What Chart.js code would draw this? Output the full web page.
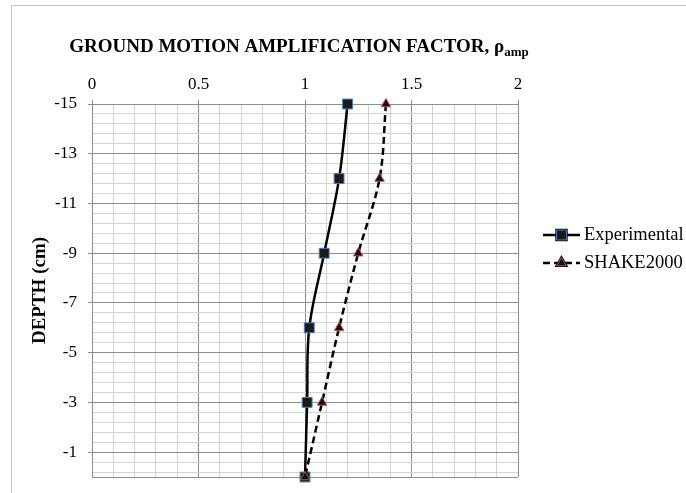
<!DOCTYPE html>
<html>
<head>
<meta charset="utf-8">
<script src="https://cdn.jsdelivr.net/npm/chart.js@4"></script>
<style>
  body { margin: 0; background: #fff; }
</style>
</head>
<body>
<canvas id="line-chart" width="686" height="493"></canvas>
<script>
// depth (cm) and amplification factor
let depth = [-15, -12, -9, -6, -3, 0];
let experimental = [1.2, 1.16, 1.09, 1.02, 1.01, 1.0];
let shake2000 = [1.38, 1.35, 1.25, 1.16, 1.08, 1.0];

// major tick labels
let xLabels = [0, 0.5, 1, 1.5, 2];
let yLabels = [-15, -13, -11, -9, -7, -5, -3, -1];

let serif = "'Liberation Serif', 'Times New Roman', serif";

function points(xs){
	return xs.map(function(v, i){ return {x: v, y: depth[i]} });
}

// minor grid every 0.1 on x, every 0.4 on y
function xGrid(){
	let t = [];
	for(let i = 0; i <= 20; i++) t.push({value: i / 10});
	return t;
}
function yGrid(){
	let t = [];
	for(let i = 0; i <= 37; i++) t.push({value: Math.round((-15 + i * 0.4) * 10) / 10});
	t.push({value: 0});
	return t;
}
function isXMajor(v){ return Math.abs(v * 2 - Math.round(v * 2)) < 1e-6 }
function isYMajor(v){ return yLabels.indexOf(v) >= 0 || v == 0 }

let majorColor = '#8e8e8e';
let minorColor = '#d2d2d2';

let decor = {
	id: 'decor',
	beforeDraw: function(chart){
		let ctx = chart.ctx;
		ctx.save();
		ctx.fillStyle = '#fff';
		ctx.fillRect(0, 0, chart.width, chart.height);
		ctx.strokeStyle = '#c4c4c4';
		ctx.lineWidth = 1;
		ctx.strokeRect(11.5, 5.5, 800, 600);
		ctx.restore();
	},
	afterDraw: function(chart){
		let ctx = chart.ctx;
		ctx.save();
		// title with subscript
		let main = 'GROUND MOTION AMPLIFICATION FACTOR, \u03c1';
		let sub = 'amp';
		ctx.fillStyle = '#000';
		ctx.textBaseline = 'alphabetic';
		ctx.font = 'bold 19px ' + serif;
		let w1 = ctx.measureText(main).width;
		ctx.font = 'bold 13px ' + serif;
		let w2 = ctx.measureText(sub).width;
		let x0 = 299 - (w1 + w2) / 2;
		ctx.font = 'bold 19px ' + serif;
		ctx.fillText(main, x0, 52);
		ctx.font = 'bold 13px ' + serif;
		ctx.fillText(sub, x0 + w1, 56);

		// legend
		let items = [
			{label: 'Experimental', ds: 1, y: 235},
			{label: 'SHAKE2000', ds: 0, y: 263}
		];
		items.forEach(function(it){
			let d = chart.data.datasets[it.ds];
			ctx.strokeStyle = '#000';
			ctx.lineWidth = 2.5;
			ctx.setLineDash(d.borderDash || []);
			ctx.beginPath();
			ctx.moveTo(543, it.y);
			ctx.lineTo(580, it.y);
			ctx.stroke();
			ctx.setLineDash([]);
			Chart.helpers.drawPoint(ctx, {
				pointStyle: d.pointStyle,
				radius: d.pointRadius,
				borderWidth: d.pointBorderWidth,
				rotation: 0
			}, 561.5, it.y);
			ctx.fillStyle = d.pointBackgroundColor;
			ctx.strokeStyle = d.pointBorderColor;
			ctx.lineWidth = d.pointBorderWidth;
			ctx.fill();
			ctx.stroke();
			ctx.fillStyle = '#000';
			ctx.font = '18.5px ' + serif;
			ctx.textBaseline = 'middle';
			ctx.fillText(it.label, 584, it.y);
		});
		ctx.restore();
	}
};

new Chart(document.getElementById("line-chart"), {
	type: 'scatter',
	data: {
		datasets: [{
			label: 'SHAKE2000',
			data: points(shake2000),
			showLine: true,
			borderColor: '#000',
			borderWidth: 2.5,
			borderDash: [7, 4],
			tension: 0.35,
			pointStyle: 'triangle',
			pointRadius: 5.5,
			pointHoverRadius: 5.5,
			pointBackgroundColor: '#111',
			pointBorderColor: '#c0504d',
			pointBorderWidth: 1,
			clip: false,
			order: 1
		},{
			label: 'Experimental',
			data: points(experimental),
			showLine: true,
			borderColor: '#000',
			borderWidth: 2.5,
			tension: 0.35,
			pointStyle: 'rect',
			pointRadius: 7,
			pointHoverRadius: 7,
			pointBackgroundColor: '#1a1a1a',
			pointBorderColor: '#4a7ebb',
			pointBorderWidth: 1,
			clip: false,
			order: 2
		}]
	},
	options: {
		responsive: false,
		animation: false,
		layout: { padding: {left: 12, top: 0, right: 168, bottom: 16} },
		plugins: {
			legend: { display: false },
			title: { display: false },
			tooltip: { enabled: false }
		},
		scales: {
			x: {
				type: 'linear',
				position: 'top',
				min: 0,
				max: 2,
				afterBuildTicks: function(scale){ scale.ticks = xGrid() },
				afterFit: function(scale){
					scale.height = 104;
					scale.paddingLeft = 0;
					scale.paddingRight = 0;
				},
				border: { color: majorColor },
				grid: {
					color: function(c){ return isXMajor(c.tick.value) ? majorColor : minorColor },
					tickColor: function(c){ return isXMajor(c.tick.value) ? majorColor : 'rgba(0,0,0,0)' },
					tickLength: 4
				},
				ticks: {
					autoSkip: false,
					maxRotation: 0,
					padding: 5,
					color: '#000',
					font: { family: serif, size: 17 },
					callback: function(v){ return xLabels.indexOf(Math.round(v * 10) / 10) >= 0 ? String(Math.round(v * 10) / 10) : '' }
				}
			},
			y: {
				type: 'linear',
				reverse: true,
				min: -15,
				max: 0,
				afterBuildTicks: function(scale){ scale.ticks = yGrid() },
				afterFit: function(scale){
					scale.width = 80;
					scale.paddingTop = 0;
					scale.paddingBottom = 0;
				},
				border: { color: majorColor },
				grid: {
					color: function(c){ return isYMajor(c.tick.value) ? majorColor : minorColor },
					tickColor: function(c){ return yLabels.indexOf(c.tick.value) >= 0 ? majorColor : 'rgba(0,0,0,0)' },
					tickLength: 4
				},
				title: {
					display: true,
					text: 'DEPTH (cm)',
					color: '#000',
					font: { family: serif, size: 19, weight: 'bold' },
					padding: { top: 17, bottom: 0 }
				},
				ticks: {
					autoSkip: false,
					padding: 11,
					color: '#000',
					font: { family: serif, size: 17 },
					callback: function(v){ return yLabels.indexOf(v) >= 0 ? String(v) : '' }
				}
			}
		}
	},
	plugins: [decor]
});
</script>
</body>
</html>
